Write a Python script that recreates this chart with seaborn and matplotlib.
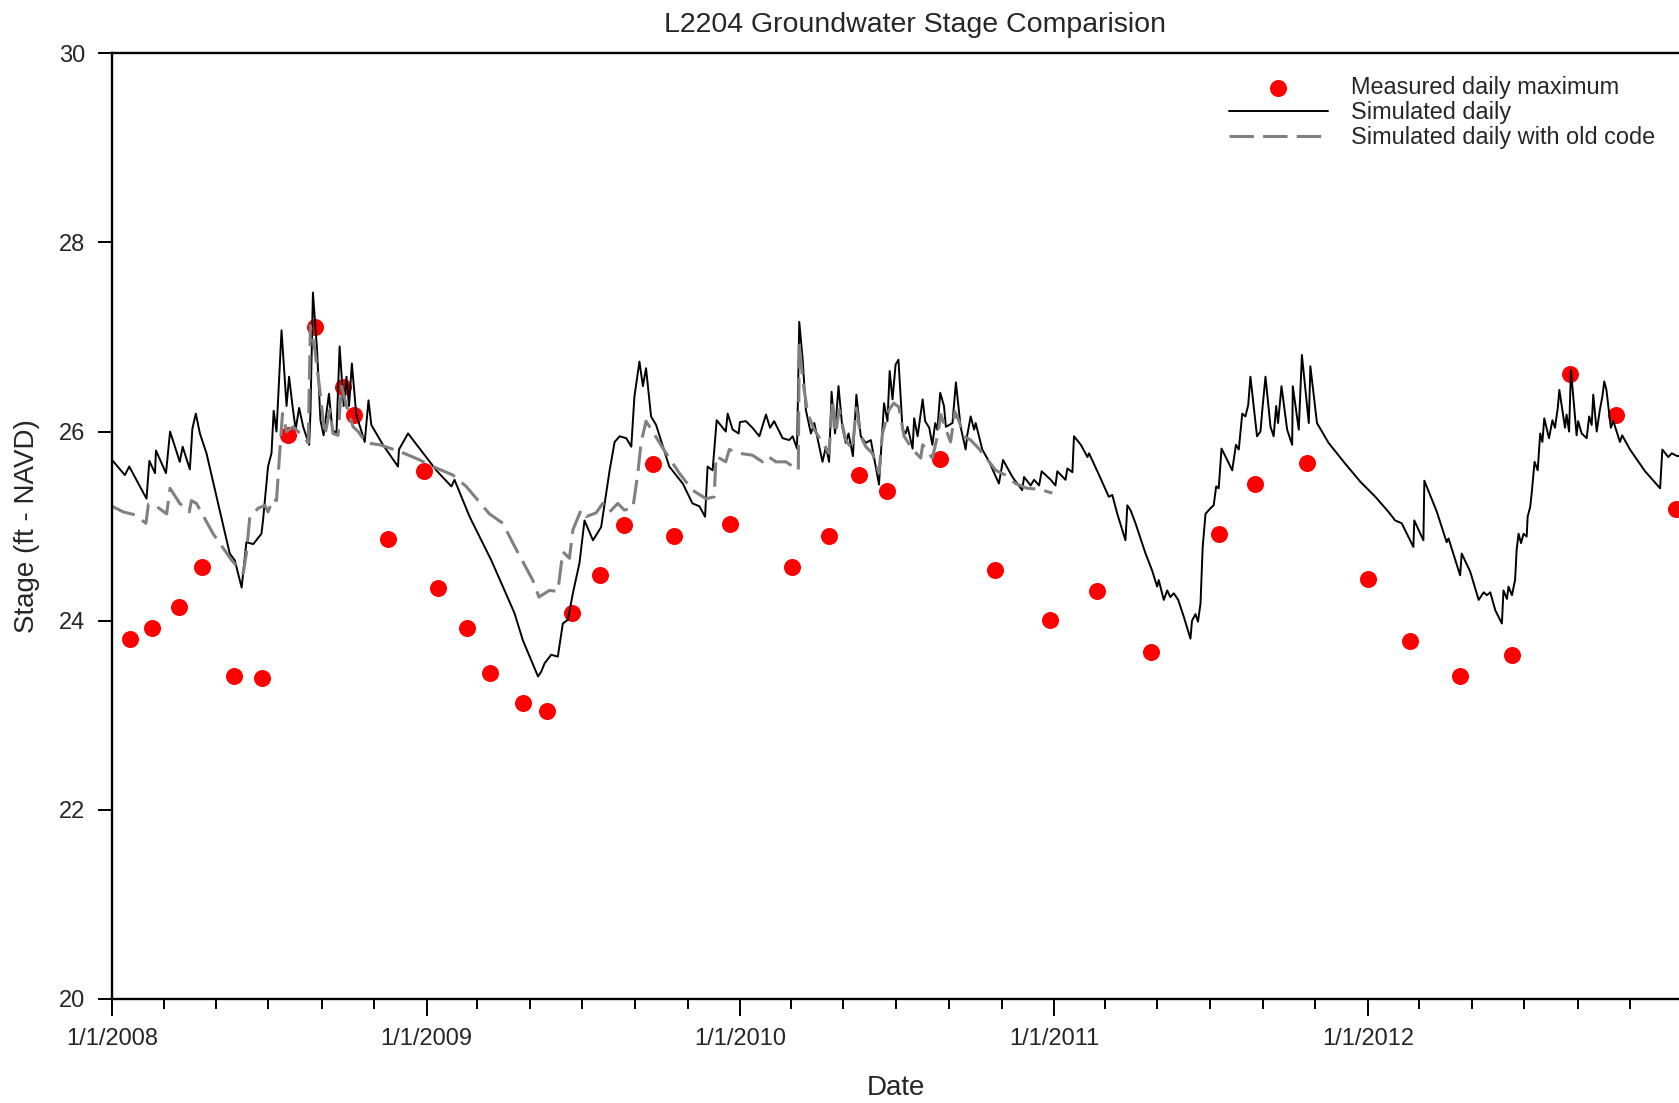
import pandas as pd
import numpy as np
import matplotlib
matplotlib.use("Agg")
import matplotlib.pyplot as plt
import matplotlib.dates as mdates
from matplotlib.ticker import FuncFormatter
import seaborn as sns

# values; time given as years since 1/1/2008
meas_year = [0.058, 0.126, 0.215, 0.286, 0.388, 0.477, 0.562, 0.647, 0.736, 0.770,
             0.879, 0.995, 1.039, 1.131, 1.203, 1.308, 1.387, 1.465, 1.554, 1.632,
             1.724, 1.789, 1.969, 2.167, 2.283, 2.378, 2.467, 2.637, 2.814, 2.988,
             3.138, 3.308, 3.526, 3.642, 3.806, 4.000, 4.133, 4.293, 4.460, 4.644,
             4.790, 4.980]
meas_stage = [23.81, 23.92, 24.14, 24.57, 23.41, 23.39, 25.96, 27.11, 26.47, 26.17,
              24.86, 25.58, 24.35, 23.92, 23.45, 23.13, 23.05, 24.08, 24.48, 25.01,
              25.66, 24.90, 25.02, 24.57, 24.90, 25.54, 25.37, 25.71, 24.54, 24.01,
              24.31, 23.67, 24.92, 25.45, 25.67, 24.44, 23.79, 23.41, 23.64, 26.61,
              26.17, 25.18]

sim_year = [0.000, 0.041, 0.055, 0.110, 0.119, 0.137, 0.140, 0.172, 0.185, 0.216,
            0.225, 0.248, 0.256, 0.267, 0.280, 0.301, 0.375, 0.391, 0.413, 0.428,
            0.450, 0.476, 0.481, 0.497, 0.508, 0.515, 0.524, 0.540, 0.556, 0.564,
            0.575, 0.585, 0.596, 0.609, 0.628, 0.632, 0.640, 0.653, 0.664, 0.674,
            0.691, 0.702, 0.715, 0.725, 0.738, 0.747, 0.755, 0.764, 0.778, 0.805,
            0.817, 0.826, 0.863, 0.911, 0.914, 0.943, 1.033, 1.081, 1.091, 1.139,
            1.208, 1.282, 1.309, 1.357, 1.367, 1.378, 1.399, 1.420, 1.436, 1.452,
            1.468, 1.489, 1.505, 1.532, 1.558, 1.574, 1.585, 1.601, 1.617, 1.638,
            1.654, 1.664, 1.680, 1.691, 1.701, 1.717, 1.733, 1.775, 1.818, 1.849,
            1.871, 1.889, 1.897, 1.913, 1.926, 1.955, 1.961, 1.977, 1.996, 2.000,
            2.019, 2.040, 2.062, 2.083, 2.096, 2.109, 2.136, 2.157, 2.168, 2.182,
            2.189, 2.200, 2.210, 2.226, 2.237, 2.263, 2.274, 2.284, 2.292, 2.303,
            2.314, 2.326, 2.337, 2.346, 2.360, 2.371, 2.385, 2.401, 2.417, 2.443,
            2.459, 2.470, 2.477, 2.486, 2.496, 2.505, 2.518, 2.528, 2.534, 2.550,
            2.555, 2.566, 2.582, 2.590, 2.603, 2.613, 2.622, 2.629, 2.638, 2.650,
            2.656, 2.677, 2.688, 2.703, 2.719, 2.724, 2.735, 2.746, 2.751, 2.772,
            2.794, 2.825, 2.838, 2.868, 2.899, 2.905, 2.926, 2.937, 2.953, 2.961,
            2.990, 3.005, 3.011, 3.037, 3.043, 3.059, 3.064, 3.086, 3.107, 3.112,
            3.144, 3.175, 3.186, 3.202, 3.228, 3.234, 3.244, 3.260, 3.292, 3.313,
            3.329, 3.334, 3.350, 3.361, 3.371, 3.382, 3.396, 3.414, 3.435, 3.440,
            3.451, 3.459, 3.467, 3.474, 3.483, 3.499, 3.509, 3.517, 3.525, 3.534,
            3.552, 3.568, 3.580, 3.589, 3.600, 3.610, 3.619, 3.626, 3.647, 3.658,
            3.665, 3.674, 3.690, 3.700, 3.708, 3.714, 3.725, 3.743, 3.759, 3.761,
            3.780, 3.790, 3.812, 3.817, 3.838, 3.875, 3.928, 3.976, 4.024, 4.066,
            4.087, 4.108, 4.145, 4.148, 4.177, 4.180, 4.220, 4.251, 4.257, 4.294,
            4.299, 4.326, 4.353, 4.369, 4.379, 4.390, 4.406, 4.427, 4.432, 4.443,
            4.448, 4.459, 4.469, 4.474, 4.480, 4.488, 4.496, 4.506, 4.509, 4.517,
            4.522, 4.531, 4.541, 4.549, 4.556, 4.562, 4.577, 4.588, 4.596, 4.605,
            4.610, 4.628, 4.633, 4.641, 4.647, 4.665, 4.670, 4.681, 4.697, 4.705,
            4.713, 4.718, 4.729, 4.739, 4.747, 4.753, 4.760, 4.774, 4.782, 4.803,
            4.810, 4.835, 4.883, 4.931, 4.938, 4.957, 4.968, 4.986, 5.000]
sim_stage = [25.70, 25.54, 25.63, 25.29, 25.69, 25.56, 25.80, 25.56, 26.00, 25.68,
             25.84, 25.60, 26.03, 26.19, 25.98, 25.77, 24.71, 24.64, 24.35, 24.83,
             24.81, 24.92, 25.06, 25.63, 25.77, 26.22, 26.00, 27.07, 26.27, 26.58,
             26.27, 26.02, 26.25, 26.05, 25.86, 26.19, 27.47, 26.87, 26.12, 25.96,
             26.40, 26.02, 25.98, 26.90, 26.27, 26.58, 26.27, 26.72, 26.18, 25.89,
             26.33, 26.07, 25.86, 25.63, 25.81, 25.98, 25.59, 25.42, 25.49, 25.10,
             24.64, 24.08, 23.79, 23.41, 23.46, 23.55, 23.64, 23.62, 23.97, 24.01,
             24.29, 24.61, 25.06, 24.85, 24.99, 25.35, 25.59, 25.89, 25.95, 25.93,
             25.84, 26.37, 26.74, 26.48, 26.67, 26.16, 26.07, 25.63, 25.45, 25.24,
             25.21, 25.10, 25.63, 25.59, 26.12, 26.00, 26.19, 26.02, 25.98, 26.10,
             26.11, 26.04, 25.95, 26.18, 26.04, 26.11, 25.93, 25.91, 25.95, 25.82,
             27.16, 26.76, 26.23, 25.98, 26.09, 25.68, 25.84, 25.68, 26.42, 25.98,
             26.48, 26.05, 25.88, 25.98, 25.74, 26.39, 25.95, 25.88, 25.91, 25.44,
             26.30, 26.11, 26.64, 26.34, 26.71, 26.76, 26.02, 25.98, 26.05, 25.82,
             26.14, 25.95, 26.34, 26.11, 26.04, 25.86, 26.09, 26.02, 26.41, 26.27,
             26.05, 26.09, 26.52, 26.05, 25.81, 25.96, 26.16, 26.02, 26.09, 25.81,
             25.68, 25.45, 25.70, 25.52, 25.38, 25.52, 25.43, 25.49, 25.43, 25.58,
             25.49, 25.43, 25.58, 25.49, 25.61, 25.57, 25.95, 25.86, 25.73, 25.77,
             25.54, 25.31, 25.33, 25.13, 24.85, 25.22, 25.17, 25.03, 24.71, 24.53,
             24.36, 24.43, 24.22, 24.32, 24.25, 24.29, 24.22, 24.04, 23.81, 24.00,
             24.07, 23.99, 24.18, 24.78, 25.13, 25.19, 25.22, 25.42, 25.40, 25.82,
             25.70, 25.59, 25.86, 25.81, 26.19, 26.16, 26.28, 26.58, 25.95, 26.00,
             26.27, 26.58, 26.05, 25.95, 26.27, 26.09, 26.48, 26.02, 25.86, 26.48,
             26.02, 26.81, 26.09, 26.69, 26.09, 25.88, 25.66, 25.47, 25.31, 25.15,
             25.06, 25.03, 24.78, 25.06, 24.85, 25.48, 25.15, 24.83, 24.87, 24.48,
             24.71, 24.52, 24.22, 24.30, 24.27, 24.30, 24.11, 23.97, 24.32, 24.23,
             24.36, 24.27, 24.43, 24.75, 24.92, 24.82, 24.92, 24.89, 25.10, 25.20,
             25.35, 25.68, 25.59, 25.98, 25.89, 26.14, 25.93, 26.12, 26.04, 26.25,
             26.44, 26.04, 26.18, 26.00, 26.65, 25.96, 26.11, 25.98, 25.93, 26.16,
             26.07, 26.39, 26.00, 26.23, 26.37, 26.53, 26.44, 26.04, 26.11, 25.89,
             25.96, 25.81, 25.58, 25.40, 25.81, 25.73, 25.77, 25.74, 25.75]

old_year = [0.000, 0.036, 0.073, 0.108, 0.116, 0.137, 0.174, 0.185, 0.216, 0.246,
            0.253, 0.269, 0.322, 0.381, 0.418, 0.428, 0.439, 0.466, 0.487, 0.497,
            0.513, 0.524, 0.534, 0.543, 0.556, 0.577, 0.609, 0.625, 0.632, 0.646,
            0.662, 0.678, 0.694, 0.704, 0.720, 0.731, 0.747, 0.768, 0.784, 0.810,
            0.853, 0.916, 0.980, 1.022, 1.086, 1.128, 1.202, 1.245, 1.277, 1.314,
            1.340, 1.360, 1.393, 1.420, 1.436, 1.457, 1.468, 1.494, 1.510, 1.542,
            1.563, 1.585, 1.611, 1.632, 1.659, 1.675, 1.685, 1.701, 1.722, 1.765,
            1.807, 1.849, 1.892, 1.918, 1.924, 1.955, 1.966, 1.998, 2.040, 2.072,
            2.088, 2.115, 2.147, 2.186, 2.189, 2.200, 2.216, 2.237, 2.263, 2.284,
            2.295, 2.305, 2.316, 2.337, 2.358, 2.371, 2.385, 2.401, 2.422, 2.443,
            2.454, 2.475, 2.490, 2.506, 2.523, 2.550, 2.576, 2.582, 2.613, 2.629,
            2.640, 2.656, 2.671, 2.685, 2.698, 2.714, 2.735, 2.761, 2.794, 2.815,
            2.846, 2.878, 2.915, 2.953, 2.995]
old_stage = [25.21, 25.15, 25.12, 25.03, 25.23, 25.22, 25.13, 25.40, 25.24, 25.15,
             25.27, 25.24, 24.92, 24.64, 24.50, 24.71, 25.10, 25.19, 25.22, 25.15,
             25.29, 25.27, 25.77, 26.19, 26.00, 26.05, 25.95, 25.88, 27.12, 26.87,
             26.44, 25.96, 26.23, 25.98, 25.96, 26.48, 26.27, 26.05, 26.00, 25.88,
             25.86, 25.79, 25.70, 25.63, 25.54, 25.42, 25.13, 25.03, 24.82, 24.59,
             24.43, 24.25, 24.32, 24.31, 24.73, 24.66, 24.96, 25.17, 25.10, 25.14,
             25.24, 25.15, 25.24, 25.17, 25.19, 25.56, 25.88, 26.11, 26.00, 25.77,
             25.56, 25.38, 25.29, 25.31, 25.74, 25.68, 25.81, 25.77, 25.75, 25.68,
             25.74, 25.68, 25.68, 25.59, 26.94, 26.55, 26.19, 26.02, 25.88, 25.77,
             26.34, 25.98, 26.23, 25.91, 25.81, 26.25, 25.95, 25.84, 25.77, 25.56,
             25.98, 26.23, 26.30, 26.26, 25.95, 25.81, 25.72, 25.86, 25.72, 25.95,
             26.18, 26.02, 25.89, 26.21, 26.11, 25.95, 25.91, 25.82, 25.68, 25.59,
             25.54, 25.45, 25.40, 25.39, 25.35]

start = pd.Timestamp("2008-01-01")


def to_dates(years):
    return start + pd.to_timedelta(np.array(years) * 365.25, unit="D")


meas = pd.DataFrame({"Date": to_dates(meas_year), "Stage": meas_stage})
sim = pd.DataFrame({"Date": to_dates(sim_year), "Stage": sim_stage})
old = pd.DataFrame({"Date": to_dates(old_year), "Stage": old_stage})

sns.set_style("ticks")
plt.rcParams["font.family"] = ["Liberation Sans", "DejaVu Sans"]

fig = plt.figure(figsize=(16.79, 11.03), dpi=100)
# axes runs up to the right edge; last day shown is 12/31/2012
ax = fig.add_axes([0.0667, 0.0943, 1.0 - 0.0667, 0.9517 - 0.0943])

sns.scatterplot(data=meas, x="Date", y="Stage", color="#ff0000", s=150,
                linewidth=0, label="Measured daily maximum", ax=ax)
sns.lineplot(data=sim, x="Date", y="Stage", color="black", linewidth=1.4,
             label="Simulated daily", ax=ax)
sns.lineplot(data=old, x="Date", y="Stage", color="#808080", linewidth=2.2,
             linestyle=(0, (8, 3)), label="Simulated daily with old code", ax=ax)

ax.set_xlim(pd.Timestamp("2008-01-01"), pd.Timestamp("2012-12-28"))
ax.set_ylim(20, 30)
ax.set_yticks([20, 22, 24, 26, 28, 30])
ax.xaxis.set_major_locator(mdates.YearLocator())
ax.xaxis.set_minor_locator(mdates.MonthLocator(bymonth=[3, 5, 7, 9, 11]))
ax.xaxis.set_major_formatter(FuncFormatter(
    lambda v, pos: "{0}/{1}/{2}".format(mdates.num2date(v).month,
                                         mdates.num2date(v).day,
                                         mdates.num2date(v).year)))

for side in ["left", "bottom", "top"]:
    ax.spines[side].set_linewidth(1.7)
    ax.spines[side].set_color("black")
ax.spines["right"].set_visible(False)

ax.tick_params(axis="y", which="major", length=10, width=1.4, pad=9,
               labelsize=17, direction="out", color="black")
ax.tick_params(axis="x", which="major", length=12, width=1.4, pad=9,
               labelsize=17, direction="out", color="black")
ax.tick_params(axis="x", which="minor", length=7, width=1.4, direction="out",
               color="black")

ax.set_xlabel("Date", fontsize=20)
ax.set_ylabel("Stage (ft - NAVD)", fontsize=20)
ax.xaxis.set_label_coords(0.5, -0.080)
ax.yaxis.set_label_coords(-0.046, 0.5)

fig.text(915 / 1679, 1 - 24.5 / 1103, "L2204 Groundwater Stage Comparision",
         fontsize=20.5, ha="center", va="center")

ax.legend(loc="upper left", bbox_to_anchor=((1229 - 112) / 1567, (999 - 76.5) / 945.7),
          frameon=False, fontsize=16.9, handlelength=4.2, handletextpad=1.0,
          labelspacing=0.08, borderpad=0, borderaxespad=0)

plt.savefig("out.png", dpi=100)
